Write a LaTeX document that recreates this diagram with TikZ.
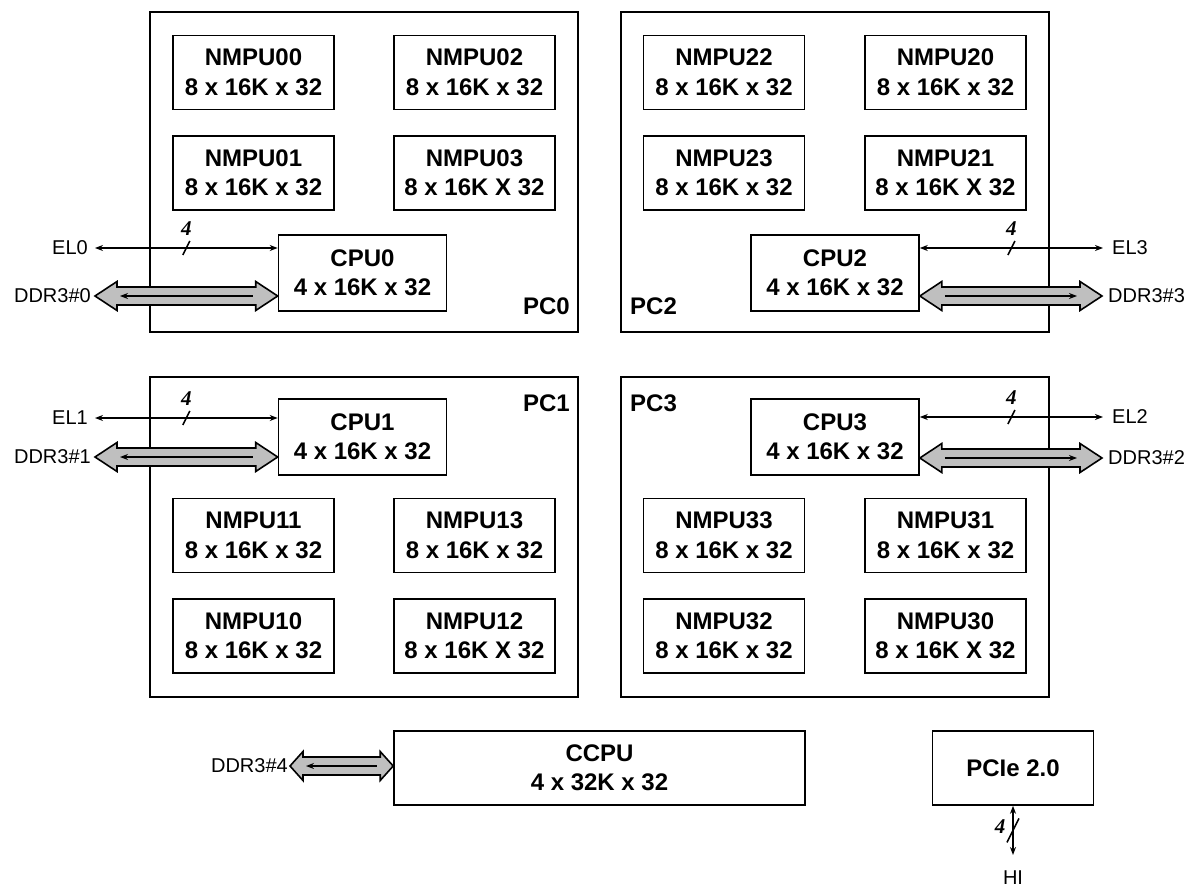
\documentclass[tikz,border=0pt]{standalone}
\usepackage{fontspec}
\setmainfont{Liberation Sans}
\newfontfamily\busfont{Liberation Serif}
\usetikzlibrary{arrows.meta,calc}

\tikzset{
  pcbox/.style={draw, line width=1.6pt, minimum width=428pt, minimum height=320pt, inner sep=0pt},
  unit/.style={draw, line width=1.6pt, fill=white, font=\fontsize{24}{29.5}\selectfont\bfseries, align=center, inner sep=0pt},
  nmpu/.style={unit, minimum width=161pt, minimum height=74pt},
  cpubox/.style={unit, minimum width=168pt, minimum height=76pt},
  lbl/.style={font=\fontsize{20}{24}\selectfont, inner sep=0pt},
  pclbl/.style={font=\fontsize{24}{29}\selectfont\bfseries, inner sep=0pt},
  elarrow/.style={line width=1.3pt, <->},
  fat/.style={draw, line width=1.6pt, fill=black!25, line join=miter},
  innerline/.style={line width=1.4pt},
  slashline/.style={line width=1.6pt},
  bus/.style={font=\busfont\fontsize{21}{22}\selectfont\bfseries\itshape, inner sep=0pt},
}

% #1 head length, #2 left point, #3 right point, #4 inner arrow direction
\newcommand\fatarrow[4][22pt]{%
  \draw[fat] let \p1=(#2), \p2=(#3) in
    (\x1,\y1) -- (\x1+#1,\y1+14.5pt) -- (\x1+#1,\y1+9pt) -- (\x2-#1,\y1+9pt)
    -- (\x2-#1,\y1+14.5pt) -- (\x2,\y1) -- (\x2-#1,\y1-14.5pt) -- (\x2-#1,\y1-9pt)
    -- (\x1+#1,\y1-9pt) -- (\x1+#1,\y1-14.5pt) -- cycle;
  \draw[innerline,#4] let \p1=(#2), \p2=(#3) in
    (\x1+#1+3pt,\y1) -- (\x2-#1-3pt,\y1);
}
% slash with bus width label, #1 coordinate name
\newcommand\buswidth[1]{%
  \draw[slashline] ([shift={(-3.5,7)}]#1) -- ([shift={(3.5,-7)}]#1);
  \node[bus] at ([shift={(0,-19)}]#1) {4};
}

\begin{document}
\begin{tikzpicture}[x=1pt,y=-1pt,>={Stealth[length=8pt,width=6pt]}]
\useasboundingbox (0,0) rectangle (1195,888);

% processor clusters
\node[pcbox] (pc0) at (364,172) {};
\node[pcbox] (pc2) at (835,172) {};
\node[pcbox] (pc1) at (364,537) {};
\node[pcbox] (pc3) at (835,537) {};

\node[pclbl, anchor=base east] (pc0l) at (570,314) {PC0};
\node[pclbl, anchor=base west] (pc2l) at (630,314) {PC2};
\node[pclbl, anchor=base east] (pc1l) at (570,411) {PC1};
\node[pclbl, anchor=base west] (pc3l) at (630,411) {PC3};

% NMPU units
\node[nmpu] (n00) at (253.5,72.5) {NMPU00\\8 x 16K x 32};
\node[nmpu] (n02) at (474.5,72.5) {NMPU02\\8 x 16K x 32};
\node[nmpu] (n01) at (253.5,173) {NMPU01\\8 x 16K x 32};
\node[nmpu] (n03) at (474.5,173) {NMPU03\\8 x 16K X 32};

\node[nmpu] (n22) at (724,72.5) {NMPU22\\8 x 16K x 32};
\node[nmpu] (n20) at (945.5,72.5) {NMPU20\\8 x 16K x 32};
\node[nmpu] (n23) at (724,173) {NMPU23\\8 x 16K x 32};
\node[nmpu] (n21) at (945.5,173) {NMPU21\\8 x 16K X 32};

\node[nmpu] (n11) at (253.5,535.5) {NMPU11\\8 x 16K x 32};
\node[nmpu] (n13) at (474.5,535.5) {NMPU13\\8 x 16K x 32};
\node[nmpu] (n10) at (253.5,636) {NMPU10\\8 x 16K x 32};
\node[nmpu] (n12) at (474.5,636) {NMPU12\\8 x 16K X 32};

\node[nmpu] (n33) at (724,535.5) {NMPU33\\8 x 16K x 32};
\node[nmpu] (n31) at (945.5,535.5) {NMPU31\\8 x 16K x 32};
\node[nmpu] (n32) at (724,636) {NMPU32\\8 x 16K x 32};
\node[nmpu] (n30) at (945.5,636) {NMPU30\\8 x 16K X 32};

% CPUs
\node[cpubox] (cpu0) at (362.5,273) {CPU0\\4 x 16K x 32};
\node[cpubox] (cpu2) at (835,273) {CPU2\\4 x 16K x 32};
\node[cpubox] (cpu1) at (362.5,437) {CPU1\\4 x 16K x 32};
\node[cpubox] (cpu3) at (835,437) {CPU3\\4 x 16K x 32};

% CCPU and PCIe
\node[unit, minimum width=411pt, minimum height=74pt] (ccpu) at (599.5,768) {CCPU\\4 x 32K x 32};
\node[unit, minimum width=161pt, minimum height=74pt] (pcie) at (1013,768) {PCIe 2.0};

% external labels
\node[lbl, anchor=east] (el0) at (88,248) {EL0};
\node[lbl, anchor=east] (ddr0) at (91,296) {DDR3\#0};
\node[lbl, anchor=east] (el1) at (88,418) {EL1};
\node[lbl, anchor=east] (ddr1) at (91,457) {DDR3\#1};
\node[lbl, anchor=west] (el3) at (1112,248) {EL3};
\node[lbl, anchor=west] (ddr3) at (1108,296) {DDR3\#3};
\node[lbl, anchor=west] (el2) at (1112,417) {EL2};
\node[lbl, anchor=west] (ddr2) at (1108,458) {DDR3\#2};
\node[lbl, anchor=east] (ddr4) at (288,766) {DDR3\#4};
\node[lbl] (hi) at (1013,878) {HI};

% EL links
\draw[elarrow] ([xshift=7pt]el0.east) -- node[coordinate,midway] (s0) {} (cpu0.west |- el0.east);
\draw[elarrow] ([xshift=7pt]el1.east) -- node[coordinate,midway] (s1) {} (cpu1.west |- el1.east);
\draw[elarrow] (cpu2.east |- el3.west) -- node[coordinate,midway] (s3) {} ([xshift=-9pt]el3.west);
\draw[elarrow] (cpu3.east |- el2.west) -- node[coordinate,midway] (s2) {} ([xshift=-9pt]el2.west);
\buswidth{s0}
\buswidth{s1}
\buswidth{s3}
\buswidth{s2}

% DDR links
\fatarrow{$(ddr0.east)+(4,0)$}{cpu0.west |- ddr0.east}{<-}
\fatarrow{$(ddr1.east)+(4,0)$}{cpu1.west |- ddr1.east}{<-}
\fatarrow{cpu2.east |- ddr3.west}{$(ddr3.west)+(-6,0)$}{->}
\fatarrow{cpu3.east |- ddr2.west}{$(ddr2.west)+(-6,0)$}{->}
\fatarrow[13pt]{$(ddr4.east)+(2,0)$}{ccpu.west |- ddr4.east}{<-}

% host interface
\coordinate (hitop) at (1013,855);
\draw[elarrow] (pcie.south) -- node[coordinate,midway] (sh) {} (hitop);
\draw[slashline] ([shift={(-6,12)}]sh) -- ([shift={(6,-12)}]sh);
\node[bus] at ([shift={(-13,-4)}]sh) {4};
\end{tikzpicture}
\end{document}
